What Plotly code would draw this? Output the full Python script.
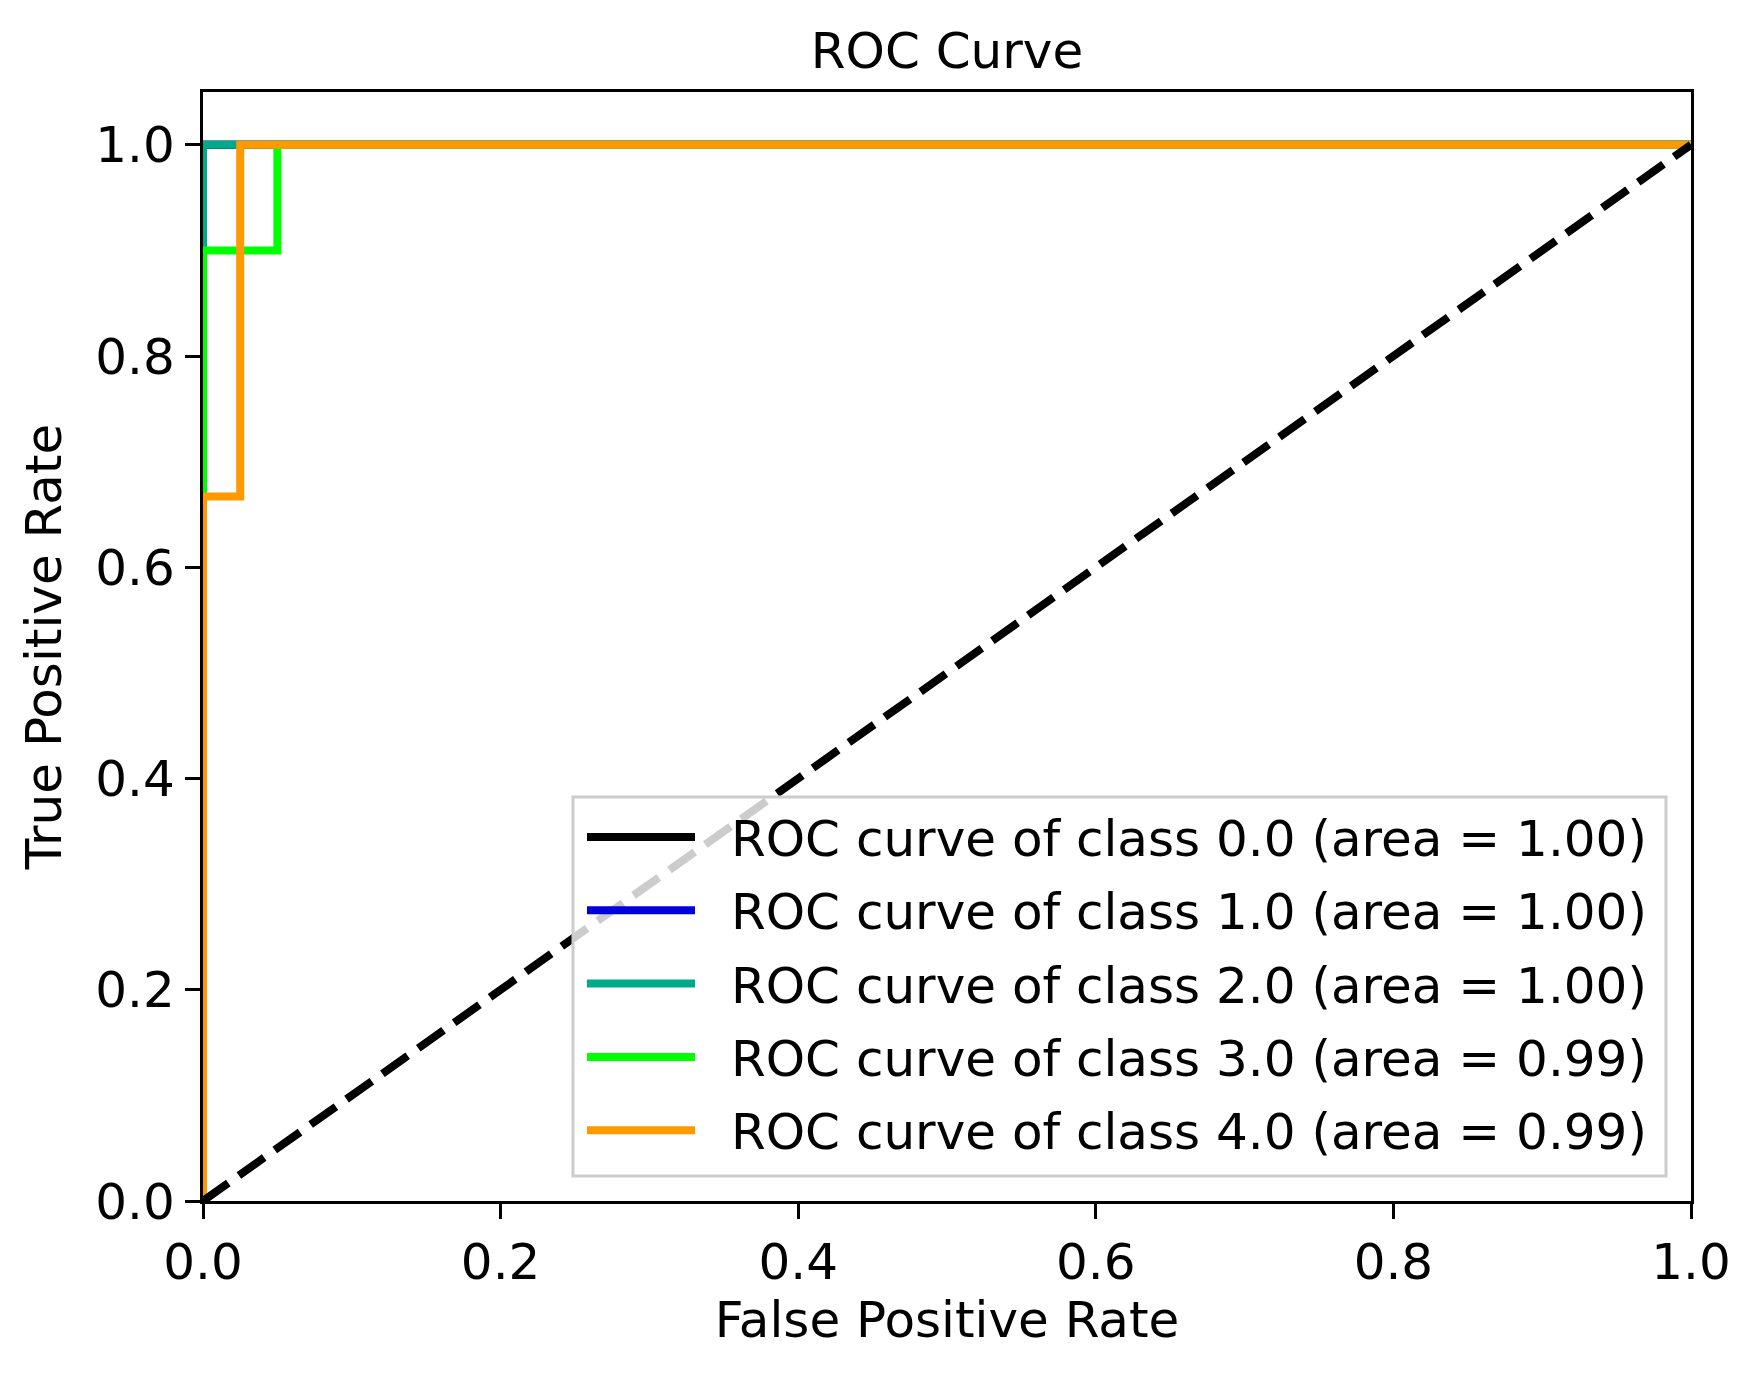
import plotly.graph_objects as go

# ---- data ----
class_names = ["0.0", "1.0", "2.0", "3.0", "4.0"]
class_auc = [1.00, 1.00, 1.00, 0.99, 0.99]
class_colors = ["#000000", "#0000DD", "#00AA88", "#00FF00", "#FF9900"]
fpr = [
    [0.0, 0.0, 1.0],
    [0.0, 0.0, 1.0],
    [0.0, 0.0, 1.0],
    [0.0, 0.0, 0.05, 0.05, 1.0],
    [0.0, 0.0, 0.025, 0.025, 1.0],
]
tpr = [
    [0.0, 1.0, 1.0],
    [0.0, 1.0, 1.0],
    [0.0, 1.0, 1.0],
    [0.0, 0.9, 0.9, 1.0, 1.0],
    [0.0, 0.667, 0.667, 1.0, 1.0],
]
diag_x = [0.0, 1.0]
diag_y = [0.0, 1.0]
tick_vals = [0.0, 0.2, 0.4, 0.6, 0.8, 1.0]
tick_text = ["0.0", "0.2", "0.4", "0.6", "0.8", "1.0"]

W, H = 1761, 1373
L, R, T, B = 203, 70, 92, 172
FONT = "DejaVu Sans"

fig = go.Figure()
labels = []
for name, auc, col, xs, ys in zip(class_names, class_auc, class_colors, fpr, tpr):
    lab = f"ROC curve of class {name} (area = {auc:.2f})"
    labels.append(lab)
    fig.add_trace(go.Scatter(x=xs, y=ys, mode="lines", name=lab,
                             line=dict(color=col, width=8), showlegend=False))

fig.add_trace(go.Scatter(x=diag_x, y=diag_y, mode="lines", showlegend=False,
                         line=dict(color="black", width=8, dash="31px,13px")))

# ---- custom legend (matplotlib style) ----
pw = W - L - R
ph = H - T - B
def px_x(p):
    return (p - L) / pw
def px_y(p):
    return (H - B - p) / ph

shapes = [dict(type="rect", xref="paper", yref="paper",
               x0=px_x(573), x1=px_x(1666), y0=px_y(1176), y1=px_y(797),
               fillcolor="rgba(255,255,255,0.8)", line=dict(color="#cccccc", width=3),
               layer="above")]
annotations = []
row0, dy = 837, 73.3
for i, (lab, col) in enumerate(zip(labels, class_colors)):
    yc = row0 + i * dy
    shapes.append(dict(type="line", xref="paper", yref="paper",
                       x0=px_x(587), x1=px_x(695), y0=px_y(yc), y1=px_y(yc),
                       line=dict(color=col, width=8), layer="above"))
    annotations.append(dict(xref="paper", yref="paper", x=px_x(729), y=px_y(yc + 2),
                            text=lab, showarrow=False, xanchor="left", yanchor="middle",
                            font=dict(family=FONT, size=50, color="black")))

axis_common = dict(showline=True, linecolor="black", linewidth=3.3, mirror=True,
                   ticks="outside", ticklen=15, tickwidth=3.3, tickcolor="black",
                   showgrid=False, zeroline=False,
                   tickvals=tick_vals, ticktext=tick_text,
                   tickfont=dict(family=FONT, size=50, color="black"))

fig.update_layout(
    width=W, height=H,
    margin=dict(l=L, r=R, t=T, b=B, pad=0),
    paper_bgcolor="white", plot_bgcolor="white",
    title=dict(text="ROC Curve", x=0.5, xref="paper", xanchor="center",
               y=1 - 50 / H, yref="container", yanchor="middle",
               font=dict(family=FONT, size=50, color="black")),
    xaxis=dict(range=[0, 1], title=dict(text="False Positive Rate", standoff=9,
               font=dict(family=FONT, size=50, color="black")), **axis_common),
    yaxis=dict(range=[0, 1.05], title=dict(text="True Positive Rate", standoff=18,
               font=dict(family=FONT, size=50, color="black")), **axis_common),
    shapes=shapes, annotations=annotations,
    showlegend=False,
)

fig.write_html("out.html")
